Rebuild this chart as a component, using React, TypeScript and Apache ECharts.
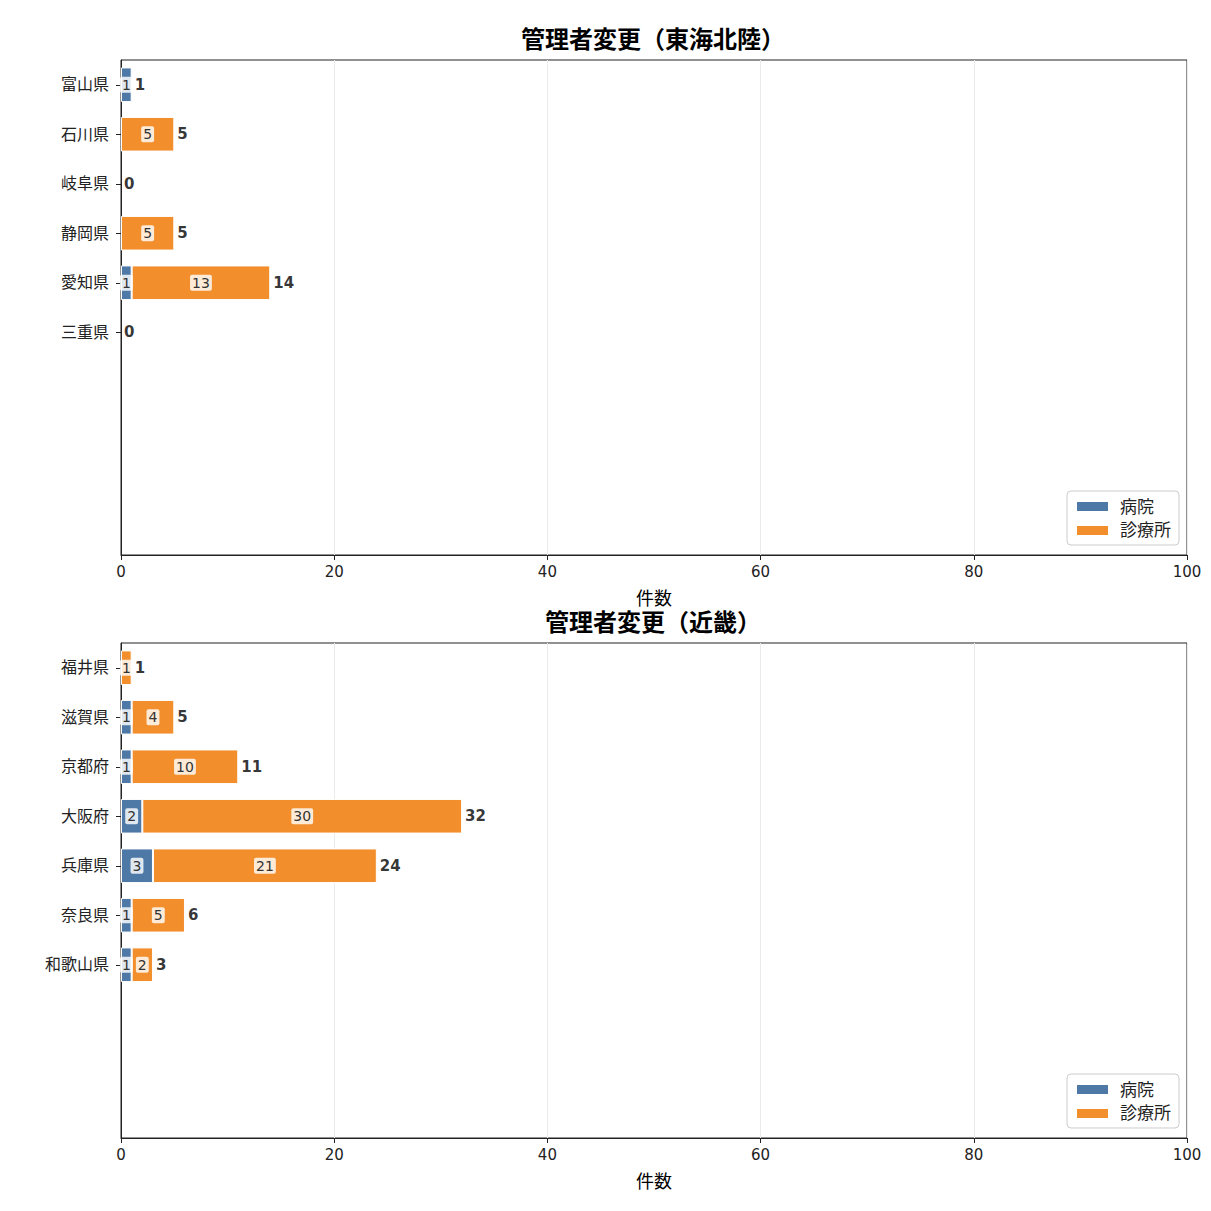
import React, { useEffect, useRef } from 'react';
import * as echarts from 'echarts';

const FONT = '"DejaVu Sans", "Noto Sans CJK JP", sans-serif';
const BLUE = '#4e79a7';
const ORANGE = '#f28e2b';
const SLOTS = 10;

// 東海北陸
const tokaiPrefs = ['富山県', '石川県', '岐阜県', '静岡県', '愛知県', '三重県'];
const tokaiHospital = [1, 0, 0, 0, 1, 0];
const tokaiClinic = [0, 5, 0, 5, 13, 0];

// 近畿
const kinkiPrefs = ['福井県', '滋賀県', '京都府', '大阪府', '兵庫県', '奈良県', '和歌山県'];
const kinkiHospital = [0, 1, 1, 2, 3, 1, 1];
const kinkiClinic = [1, 4, 10, 30, 21, 5, 2];

const titles = ['管理者変更（東海北陸）', '管理者変更（近畿）'];
const xTicks = [0, 100, 20];

const pad = (arr: string[]) => {
    const out = arr.slice();
    while (out.length < SLOTS) out.push('');
    return out;
};

const App = () => {
    const chartRef = useRef<HTMLDivElement>(null);

    useEffect(() => {
        if (!chartRef.current) return;
        document.body.style.margin = '0';
        const myChart = echarts.init(chartRef.current, null, { renderer: 'svg' });

        const panels = [
            { cats: tokaiPrefs, hosp: tokaiHospital, clin: tokaiClinic, top: 60 },
            { cats: kinkiPrefs, hosp: kinkiHospital, clin: kinkiClinic, top: 643 }
        ];

        const innerLabel = {
            show: true,
            position: 'inside',
            color: '#333',
            fontFamily: FONT,
            fontSize: 14,
            backgroundColor: 'rgba(255,255,255,0.82)',
            padding: [1, 2, 1, 2],
            borderRadius: 2
        };

        const grid: any[] = [];
        const xAxis: any[] = [];
        const yAxis: any[] = [];
        const series: any[] = [];
        const title: any[] = [];
        const legend: any[] = [];

        panels.forEach((p, i) => {
            grid.push({
                left: 121, width: 1066, top: p.top, height: 495,
                show: true, borderColor: '#222', borderWidth: 1
            });
            title.push({
                text: titles[i], left: 653, top: p.top - 32, textAlign: 'center', padding: 0,
                textStyle: { fontFamily: FONT, fontSize: 24, fontWeight: 'bold', color: '#000' }
            });
            xAxis.push({
                type: 'value', gridIndex: i, min: xTicks[0], max: xTicks[1], interval: xTicks[2],
                name: '件数', nameLocation: 'middle', nameGap: 34,
                nameTextStyle: { fontFamily: FONT, fontSize: 18, color: '#000' },
                axisLine: { show: true, lineStyle: { color: '#222' } },
                axisTick: { show: true, length: 5, lineStyle: { color: '#222' } },
                axisLabel: { fontFamily: FONT, fontSize: 15, color: '#222', margin: 9 },
                splitLine: { show: true, lineStyle: { color: '#ebebeb' } }
            });
            const labels = pad(p.cats);
            yAxis.push({
                type: 'category', gridIndex: i, data: labels, inverse: true,
                axisLine: { show: true, lineStyle: { color: '#222' } },
                axisTick: {
                    show: true, length: 5, alignWithLabel: true,
                    interval: (idx: number, v: string) => v !== '',
                    lineStyle: { color: '#222' }
                },
                axisLabel: { fontFamily: FONT, fontSize: 16, color: '#222', margin: 12, interval: 0 },
                splitLine: { show: false }
            });
            const names = ['病院', '診療所'];
            legend.push({
                data: names, orient: 'vertical', right: 32, top: p.top + 431,
                itemWidth: 33, itemHeight: 11, itemGap: 7, icon: 'rect',
                backgroundColor: '#fff', borderColor: '#ccc', borderWidth: 1, borderRadius: 4,
                padding: [7, 8, 6, 8],
                textStyle: { fontFamily: FONT, fontSize: 17, color: '#222', padding: [0, 0, 0, 6] }
            });
            const toData = (arr: number[]) => arr.map(v => (v > 0 ? v : '-'));
            series.push({
                name: names[0], type: 'bar', xAxisIndex: i, yAxisIndex: i, stack: 's' + i,
                barWidth: '70%', data: toData(p.hosp),
                itemStyle: { color: BLUE, borderColor: '#fff', borderWidth: 1 },
                label: innerLabel
            });
            series.push({
                name: names[1], type: 'bar', xAxisIndex: i, yAxisIndex: i, stack: 's' + i,
                barWidth: '70%', data: toData(p.clin),
                itemStyle: { color: ORANGE, borderColor: '#fff', borderWidth: 1 },
                label: innerLabel
            });
            series.push({
                type: 'scatter', xAxisIndex: i, yAxisIndex: i, symbolSize: 0, silent: true,
                data: p.cats.map((c, k) => [p.hosp[k] + p.clin[k], k]),
                label: {
                    show: true, position: 'right', distance: 3,
                    formatter: (d: any) => String(d.value[0]),
                    fontFamily: FONT, fontSize: 15, fontWeight: 'bold', color: '#000'
                }
            });
        });

        myChart.setOption({
            animation: false,
            backgroundColor: '#fff',
            title, grid, xAxis, yAxis, series, legend
        });

        return () => {
            myChart.dispose();
        };
    }, []);

    return <div ref={chartRef} style={{ width: '1211px', height: '1211px' }} />;
};

export default App;
